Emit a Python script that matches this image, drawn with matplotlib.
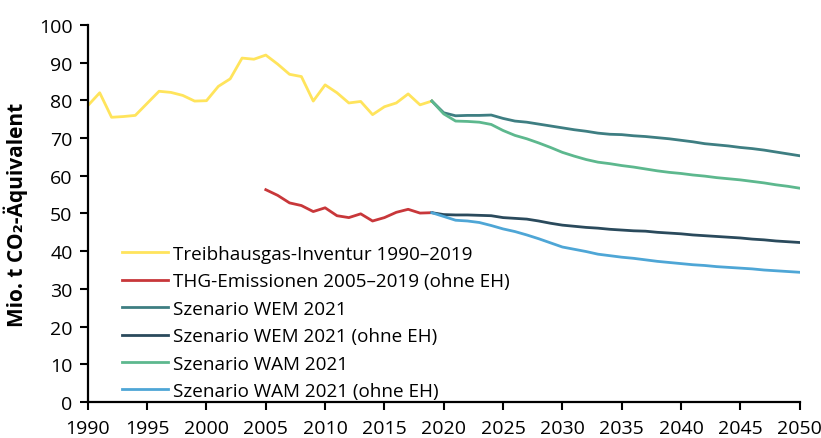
import numpy as np
import matplotlib.pyplot as plt

plt.rcParams['font.family'] = ['Open Sans', 'DejaVu Sans']

# Inventur 1990-2019
years_inv = list(range(1990, 2020))
inventur = [78.6, 82.0, 75.5, 75.7, 76.0, 79.2, 82.4, 82.1, 81.3, 79.8,
            79.9, 83.7, 85.7, 91.2, 90.9, 92.0, 89.6, 86.9, 86.3, 79.8,
            84.1, 82.0, 79.3, 79.7, 76.2, 78.3, 79.3, 81.7, 78.8, 79.8]

# THG ohne EH 2005-2019
years_eh = list(range(2005, 2020))
thg_ohne_eh = [56.3, 54.8, 52.8, 52.1, 50.5, 51.5, 49.4, 48.9, 49.9, 48.0,
               48.9, 50.3, 51.1, 50.1, 50.2]

# Szenarien 2019-2050
years_sz = list(range(2019, 2051))
wem = [79.8, 76.7, 75.9, 76.0, 76.0, 76.1, 75.2, 74.5, 74.2, 73.7,
       73.2, 72.7, 72.2, 71.8, 71.3, 71.0, 70.9, 70.6, 70.4, 70.1,
       69.8, 69.4, 69.0, 68.5, 68.2, 67.9, 67.5, 67.2, 66.8, 66.3,
       65.8, 65.3]
wem_ohne_eh = [50.2, 49.7, 49.6, 49.6, 49.5, 49.4, 48.9, 48.7, 48.5, 48.0,
               47.4, 46.9, 46.6, 46.3, 46.1, 45.8, 45.6, 45.4, 45.3, 45.0,
               44.8, 44.6, 44.3, 44.1, 43.9, 43.7, 43.5, 43.2, 43.0, 42.7,
               42.5, 42.3]
wam = [79.8, 76.4, 74.5, 74.4, 74.2, 73.6, 72.0, 70.7, 69.8, 68.7,
       67.5, 66.2, 65.2, 64.3, 63.6, 63.2, 62.7, 62.3, 61.8, 61.3,
       60.9, 60.6, 60.2, 59.9, 59.5, 59.2, 58.9, 58.5, 58.1, 57.6,
       57.2, 56.7]
wam_ohne_eh = [50.2, 49.2, 48.2, 48.0, 47.6, 46.8, 45.9, 45.2, 44.3, 43.3,
               42.2, 41.1, 40.5, 39.9, 39.2, 38.8, 38.4, 38.1, 37.7, 37.3,
               37.0, 36.7, 36.4, 36.2, 35.9, 35.7, 35.5, 35.3, 35.0, 34.8,
               34.6, 34.4]

labels = ['Treibhausgas-Inventur 1990–2019',
          'THG-Emissionen 2005–2019 (ohne EH)',
          'Szenario WEM 2021',
          'Szenario WEM 2021 (ohne EH)',
          'Szenario WAM 2021',
          'Szenario WAM 2021 (ohne EH)']
colors = ['#FFE45C', '#C8373A', '#3E7E82', '#2A4A5C', '#5DB88E', '#4EA6D6']

fig = plt.figure(figsize=(8.21, 4.39), dpi=100)
ax = fig.add_axes([0.107, 0.082, 0.867, 0.859])

ax.plot(years_inv, inventur, color=colors[0], lw=2, label=labels[0])
ax.plot(years_eh, thg_ohne_eh, color=colors[1], lw=2, label=labels[1])
ax.plot(years_sz, wem, color=colors[2], lw=2, label=labels[2])
ax.plot(years_sz, wem_ohne_eh, color=colors[3], lw=2, label=labels[3])
ax.plot(years_sz, wam, color=colors[4], lw=2, label=labels[4])
ax.plot(years_sz, wam_ohne_eh, color=colors[5], lw=2, label=labels[5])

ax.set_xlim(1990, 2050)
ax.set_ylim(0, 100)
ax.set_xticks(range(1990, 2051, 5))
ax.set_yticks(range(0, 101, 10))
ax.tick_params(direction='out', length=6, width=1.5, labelsize=14, colors='black')
ax.tick_params(axis='x', pad=6)
ax.tick_params(axis='y', pad=5)
for s in ['top', 'right']:
    ax.spines[s].set_visible(False)
for s in ['left', 'bottom']:
    ax.spines[s].set_linewidth(1.6)

ax.set_ylabel('Mio. t CO₂-Äquivalent', fontsize=15, fontweight='bold', labelpad=8)

ax.legend(loc='lower left', bbox_to_anchor=(0.038, -0.015), frameon=False,
          fontsize=13.6, handlelength=2.4, handletextpad=0.3, labelspacing=0.5,
          borderaxespad=0)

fig.savefig('out.png', dpi=100)
